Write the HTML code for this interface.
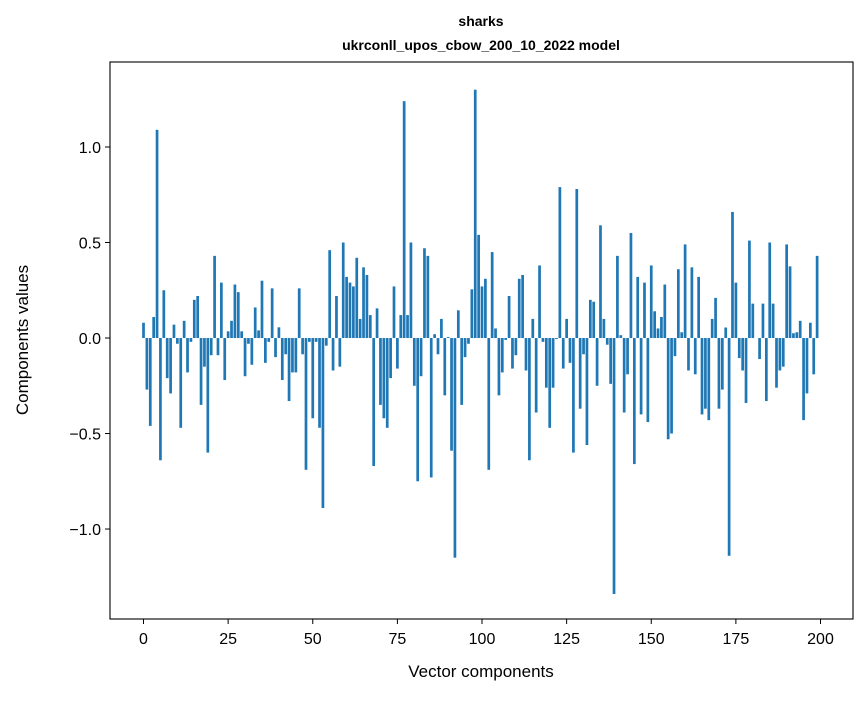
<!DOCTYPE html>
<html><head><meta charset="utf-8"><style>
body{margin:0;background:#fff;}
svg text{font-family:"Liberation Sans","DejaVu Sans",sans-serif;fill:#000;}
</style></head><body>
<svg id="chart" width="867" height="696" xmlns="http://www.w3.org/2000/svg">
<rect width="867" height="696" fill="#fff"/>
<text x="481" y="26" text-anchor="middle" font-size="14" font-weight="bold">sharks</text>
<text x="481" y="50" text-anchor="middle" font-size="14" font-weight="bold">ukrconll_upos_cbow_200_10_2022 model</text>
<g id="bars"></g>
<g id="xticks"></g>
<g id="yticks"></g>
<rect x="110" y="62" width="743" height="557" fill="none" stroke="#000" stroke-width="1.1"/>
<text x="481" y="677" text-anchor="middle" font-size="17">Vector components</text>
<text transform="translate(28,340) rotate(-90)" text-anchor="middle" font-size="17">Components values</text>
</svg>
<script>
const values = [0.08,-0.27,-0.46,0.11,1.09,-0.64,0.25,-0.21,-0.29,0.07,-0.03,-0.47,0.09,-0.18,-0.02,0.20,0.22,-0.35,-0.15,-0.60,
-0.09,0.43,-0.09,0.29,-0.22,0.035,0.09,0.28,0.24,0.035,-0.20,-0.03,-0.14,0.16,0.04,0.30,-0.13,-0.02,0.26,-0.10,
0.056,-0.22,-0.085,-0.33,-0.18,-0.18,0.26,-0.085,-0.69,-0.02,-0.42,-0.02,-0.47,-0.89,-0.04,0.46,-0.17,0.22,-0.15,0.50,
0.32,0.29,0.27,0.42,0.10,0.37,0.33,0.12,-0.67,0.155,-0.35,-0.42,-0.47,-0.21,0.27,-0.16,0.12,1.24,0.12,0.50,
-0.25,-0.75,-0.20,0.47,0.43,-0.73,0.02,-0.085,0.10,-0.30,0.005,-0.59,-1.15,0.145,-0.35,-0.10,-0.03,0.255,1.30,0.54,
0.27,0.31,-0.69,0.45,0.05,-0.30,-0.18,-0.01,0.22,-0.16,-0.09,0.31,0.33,-0.17,-0.64,0.10,-0.39,0.38,-0.02,-0.26,
-0.47,-0.26,-0.005,0.79,-0.16,0.10,-0.13,-0.60,0.78,-0.37,-0.085,-0.56,0.20,0.19,-0.25,0.59,0.10,-0.035,-0.24,-1.34,
0.43,0.015,-0.39,-0.19,0.55,-0.66,0.32,-0.40,0.29,-0.44,0.38,0.14,0.05,0.11,0.28,-0.53,-0.50,-0.095,0.36,0.03,
0.49,-0.17,0.37,-0.19,0.32,-0.40,-0.37,-0.43,0.10,0.21,-0.37,-0.27,0.055,-1.14,0.66,0.29,-0.105,-0.17,-0.34,0.51,
0.18,0.0,-0.11,0.18,-0.33,0.50,0.18,-0.26,-0.17,-0.15,0.49,0.375,0.025,0.03,0.09,-0.43,-0.29,0.08,-0.19,0.43];
const xTicks = [0,25,50,75,100,125,150,175,200];
const yTicks = [1.0,0.5,0.0,-0.5,-1.0];
const yTickLabels = ["1.0","0.5","0.0","\u22120.5","\u22121.0"];

const NS="http://www.w3.org/2000/svg";
const L=110,R=853,T=62,B=619;
const xmin=-9.9,xmax=209.6,ymin=-1.471,ymax=1.445;
function xs(v){return L+(v-xmin)/(xmax-xmin)*(R-L);}
function ys(v){return T+(ymax-v)/(ymax-ymin)*(B-T);}
const bars=document.getElementById('bars');
values.forEach((v,i)=>{
  const r=document.createElementNS(NS,'rect');
  const x0=xs(i-0.4),x1=xs(i+0.4);
  const y0=ys(Math.max(v,0)),y1=ys(Math.min(v,0));
  r.setAttribute('x',x0);r.setAttribute('width',x1-x0);
  r.setAttribute('y',y0);r.setAttribute('height',Math.max(y1-y0,0));
  r.setAttribute('fill','#1f77b4');
  
  
  bars.appendChild(r);
});
const xg=document.getElementById('xticks');
xTicks.forEach(t=>{
  const x=xs(t);
  const l=document.createElementNS(NS,'line');
  l.setAttribute('x1',x);l.setAttribute('x2',x);l.setAttribute('y1',B);l.setAttribute('y2',B+5);
  l.setAttribute('stroke','#000');
  
  
  xg.appendChild(l);
  const tx=document.createElementNS(NS,'text');
  tx.setAttribute('x',x);tx.setAttribute('y',B+25);tx.setAttribute('text-anchor','middle');tx.setAttribute('font-size','16');
  tx.textContent=t;
  
  
  xg.appendChild(tx);
});
const yg=document.getElementById('yticks');
yTicks.forEach((t,k)=>{
  const y=ys(t);
  const l=document.createElementNS(NS,'line');
  l.setAttribute('x1',L-5);l.setAttribute('x2',L);l.setAttribute('y1',y);l.setAttribute('y2',y);
  l.setAttribute('stroke','#000');
  
  
  yg.appendChild(l);
  const tx=document.createElementNS(NS,'text');
  tx.setAttribute('x',L-9);tx.setAttribute('y',y+6);tx.setAttribute('text-anchor','end');tx.setAttribute('font-size','16');
  tx.textContent=yTickLabels[k];
  
  
  yg.appendChild(tx);
});
</script>
</body></html>
